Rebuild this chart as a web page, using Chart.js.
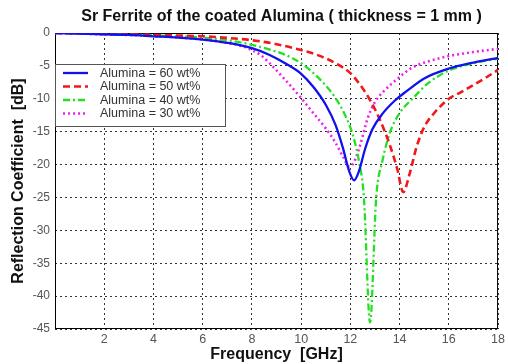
<!DOCTYPE html>
<html><head><meta charset="utf-8">
<script src="https://cdn.jsdelivr.net/npm/chart.js@4"></script>
<style>html,body{margin:0;padding:0;background:#fff}#wrap{width:508px;height:364px}</style>
</head><body><div id="wrap"><canvas id="c" width="508" height="364"></canvas></div>
<script>
const chartTitle = 'Sr Ferrite of the coated Alumina ( thickness = 1 mm )';
const xTitle = 'Frequency  [GHz]';
const yTitle = 'Reflection Coefficient  [dB]';
const seriesLabels = ['Alumina = 60 wt%', 'Alumina = 50 wt%', 'Alumina = 40 wt%', 'Alumina = 30 wt%'];
const xTicks = [0, 2, 4, 6, 8, 10, 12, 14, 16, 18];
const yTicks = [0, -5, -10, -15, -20, -25, -30, -35, -40, -45];

const freq60 = [0, 1, 2, 3, 4, 5, 6, 7, 8, 8.7, 9.35, 10, 10.5, 11, 11.4, 11.7, 11.95, 12.15, 12.35, 12.6, 12.9, 13.3, 13.8, 14.3, 15, 16, 17, 18];
const alumina60 = [0, -0.1, -0.2, -0.3, -0.5, -0.7, -1.0, -1.5, -2.3, -3.3, -4.6, -6.2, -8.2, -10.9, -14, -17.5, -21, -22.4, -21, -17.6, -14.6, -12.3, -10.3, -8.8, -6.9, -5.4, -4.5, -3.8];

const freq50 = [0, 2, 4, 6, 7, 8, 9, 10, 10.7, 11.4, 12, 12.4, 12.8, 13.2, 13.6, 13.9, 14.15, 14.4, 14.7, 15, 15.4, 16, 16.5, 17, 17.5, 18];
const alumina50 = [0, -0.15, -0.3, -0.5, -0.75, -1.1, -1.7, -2.6, -3.4, -4.6, -6.1, -7.9, -10.2, -13.2, -17, -20.6, -24.2, -21.5, -17.2, -14.3, -12.2, -10.0, -9.0, -7.9, -6.8, -5.6];

const freq40 = [0, 2, 4, 6, 7, 8, 8.7, 9.35, 10, 10.5, 11, 11.4, 11.8, 12.1, 12.35, 12.55, 12.8, 13.05, 13.3, 13.6, 14, 14.6, 15.1, 15.6, 16, 17, 18];
const alumina40 = [0, -0.15, -0.35, -0.7, -1.1, -1.8, -2.5, -3.3, -4.6, -6.1, -8.0, -9.9, -12.6, -15.5, -19.5, -25, -44, -25, -19.5, -15.2, -12.2, -9.7, -7.8, -6.5, -5.7, -4.6, -3.9];

const freq30 = [0, 2, 4, 6, 7, 7.5, 8, 8.4, 8.8, 9.35, 10, 10.5, 11, 11.4, 11.7, 11.95, 12.15, 12.4, 12.7, 13.0, 13.4, 13.9, 14.5, 15.1, 16, 17, 18];
const alumina30 = [0, -0.2, -0.45, -1.0, -1.5, -1.9, -2.6, -3.5, -4.9, -7.1, -9.9, -12.2, -14.5, -16.7, -18.8, -20.3, -19.6, -17, -13, -10.5, -8.7, -7.0, -5.3, -4.4, -3.5, -2.9, -2.4];

const FONT = '"Liberation Sans", Arial, sans-serif';
const pts = (xs, ys) => xs.map((x, i) => ({ x: x, y: ys[i] }));

const datasets = [
  { label: seriesLabels[0], data: pts(freq60, alumina60), borderColor: '#1010f0', borderWidth: 2.3, borderDash: [] },
  { label: seriesLabels[1], data: pts(freq50, alumina50), borderColor: '#f01818', borderWidth: 2.6, borderDash: [7, 4] },
  { label: seriesLabels[2], data: pts(freq40, alumina40), borderColor: '#22e022', borderWidth: 2.3, borderDash: [7, 3, 2, 3] },
  { label: seriesLabels[3], data: pts(freq30, alumina30), borderColor: '#f020f0', borderWidth: 2.6, borderDash: [2, 3] }
].map(d => Object.assign(d, { showLine: true, pointRadius: 0, fill: false, cubicInterpolationMode: 'monotone' }));

const framePlugin = {
  id: 'frame',
  beforeDatasetsDraw(chart) {
    const { ctx, chartArea: a } = chart;
    ctx.save();
    ctx.strokeStyle = '#000';
    ctx.lineWidth = 1;
    ctx.setLineDash([]);
    ctx.strokeRect(a.left + 0.5, a.top + 0.5, a.right - a.left - 1, a.bottom - a.top - 1);
    ctx.restore();
  },
  afterDraw(chart) {
    const { ctx, chartArea: a } = chart;
    ctx.save();
    ctx.fillStyle = '#111';
    ctx.font = 'bold 16px ' + FONT;
    ctx.textAlign = 'center';
    ctx.textBaseline = 'middle';
    ctx.fillText(chartTitle, (a.left + a.right) / 2 + 5, 17);
    ctx.restore();
  }
};

const legendPlugin = {
  id: 'boxLegend',
  afterDatasetsDraw(chart) {
    const { ctx, chartArea: a } = chart;
    const x = a.left, y = a.top + 31, w = 171, h = 63;
    ctx.save();
    ctx.fillStyle = '#fff';
    ctx.fillRect(x, y, w, h);
    ctx.strokeStyle = '#555';
    ctx.lineWidth = 1;
    ctx.setLineDash([]);
    ctx.strokeRect(x + 0.5, y + 0.5, w - 1, h - 1);
    chart.data.datasets.forEach((ds, i) => {
      const ly = y + 9 + i * 13.5;
      ctx.strokeStyle = ds.borderColor;
      ctx.lineWidth = ds.borderWidth;
      ctx.setLineDash(ds.borderDash);
      ctx.beginPath();
      ctx.moveTo(x + 8, ly);
      ctx.lineTo(x + 33, ly);
      ctx.stroke();
      ctx.setLineDash([]);
      ctx.fillStyle = '#333';
      ctx.font = '12.5px ' + FONT;
      ctx.textAlign = 'left';
      ctx.textBaseline = 'middle';
      ctx.fillText(ds.label, x + 45, ly + 0.5);
    });
    ctx.restore();
  }
};

new Chart(document.getElementById('c'), {
  type: 'scatter',
  data: { datasets: datasets },
  options: {
    responsive: false,
    animation: false,
    devicePixelRatio: 1,
    layout: { padding: { top: 33, right: 6, left: 0, bottom: 0 } },
    plugins: { legend: { display: false }, title: { display: false }, tooltip: { enabled: false } },
    scales: {
      x: {
        type: 'linear', min: 0, max: 18,
        afterBuildTicks: s => { s.ticks = xTicks.map(v => ({ value: v })); },
        afterFit: s => { s.height = 35; },
        ticks: { callback: v => (v === 0 ? '' : String(v)), font: { family: FONT, size: 12.5 }, color: '#555', padding: 3, maxRotation: 0, autoSkip: false },
        grid: { color: '#333', lineWidth: 1, drawTicks: false },
        border: { display: false, dash: [2, 3] },
        title: { display: true, text: xTitle, font: { family: FONT, size: 16, weight: 'bold' }, color: '#111', padding: { top: 0, bottom: 0 } }
      },
      y: {
        min: -45, max: 0,
        afterBuildTicks: s => { s.ticks = yTicks.map(v => ({ value: v })); },
        afterFit: s => { s.width = 55; },
        ticks: { callback: v => String(v), font: { family: FONT, size: 12 }, color: '#555', padding: 5, autoSkip: false },
        grid: { color: '#333', lineWidth: 1, drawTicks: false },
        border: { display: false, dash: [2, 3] },
        title: { display: true, text: yTitle, font: { family: FONT, size: 16, weight: 'bold' }, color: '#111', padding: { top: 9, bottom: 0 } }
      }
    }
  },
  plugins: [framePlugin, legendPlugin]
});
</script>
</body></html>
